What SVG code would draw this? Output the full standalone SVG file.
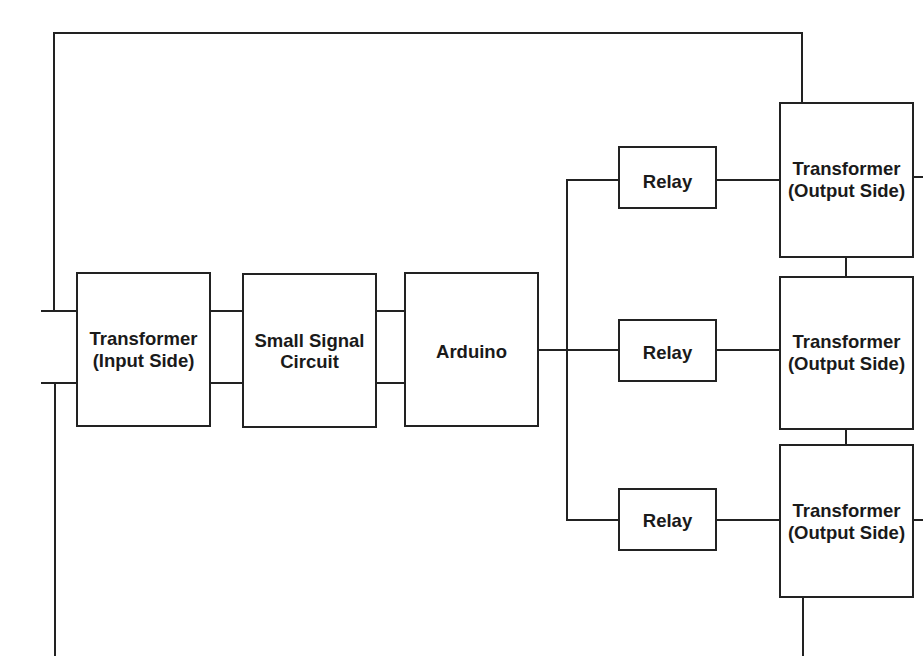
<svg xmlns="http://www.w3.org/2000/svg" width="923" height="656" viewBox="0 0 923 656">
<style>
.box{fill:#fff;stroke:#222;stroke-width:2}
.w{fill:none;stroke:#222;stroke-width:2;stroke-linecap:square}
text{font-family:"Liberation Sans",Arial,sans-serif;font-weight:bold;font-size:18.5px;fill:#1a1a1a;text-anchor:middle}
</style>
<rect width="923" height="656" fill="#fff"/>
<g id="connectors">
<path class="w" d="M54 311 V33 H802 V103"/>
<path class="w" d="M42 311 H77 M42 383 H77"/>
<path class="w" d="M55 383 V656"/>
<path class="w" d="M210 311 H243 M210 383 H243"/>
<path class="w" d="M376 311 H405 M376 383 H405"/>
<path class="w" d="M538 350 H619"/>
<path class="w" d="M567 180 V520"/>
<path class="w" d="M567 180 H619 M567 520 H619"/>
<path class="w" d="M716 180 H780 M716 350 H780 M716 520 H780"/>
<path class="w" d="M846 257 V277 M846 429 V445"/>
<path class="w" d="M803 597 V656"/>
<path class="w" d="M913 177 H923 M913 520 H923"/>
</g>
<g id="transformer-input"><rect class="box" x="77" y="273" width="133" height="153"/><text x="143.5" y="345">Transformer</text><text x="143.5" y="367">(Input Side)</text></g>
<g id="small-signal"><rect class="box" x="243" y="274" width="133" height="153"/><text x="309.5" y="347">Small Signal</text><text x="309.5" y="368">Circuit</text></g>
<g id="arduino"><rect class="box" x="405" y="273" width="133" height="153"/><text x="471.5" y="358">Arduino</text></g>
<g id="relay1"><rect class="box" x="619" y="147" width="97" height="61"/><text x="667.5" y="188">Relay</text></g>
<g id="relay2"><rect class="box" x="619" y="320" width="97" height="61"/><text x="667.5" y="359">Relay</text></g>
<g id="relay3"><rect class="box" x="619" y="489" width="97" height="61"/><text x="667.5" y="527">Relay</text></g>
<g id="transformer-out1"><rect class="box" x="780" y="103" width="133" height="154"/><text x="846.5" y="175">Transformer</text><text x="846.5" y="197">(Output Side)</text></g>
<g id="transformer-out2"><rect class="box" x="780" y="277" width="133" height="152"/><text x="846.5" y="348">Transformer</text><text x="846.5" y="370">(Output Side)</text></g>
<g id="transformer-out3"><rect class="box" x="780" y="445" width="133" height="152"/><text x="846.5" y="517">Transformer</text><text x="846.5" y="539">(Output Side)</text></g>
</svg>
